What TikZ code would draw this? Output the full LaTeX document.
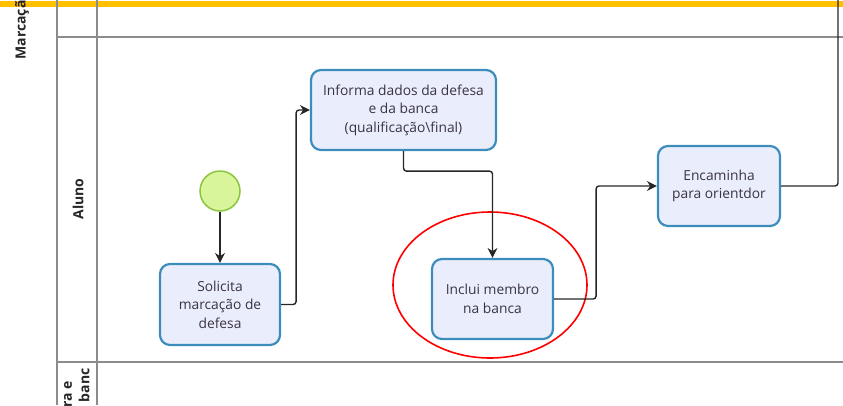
\documentclass[tikz,border=0pt]{standalone}
\usepackage{fontspec}
\setmainfont{Open Sans}
\usetikzlibrary{positioning,calc,arrows.meta}
\definecolor{poolyellow}{HTML}{FFC000}
\definecolor{taskblue}{HTML}{3C8DBC}
\definecolor{taskfill}{HTML}{EAEEFC}
\definecolor{startgreen}{HTML}{8CC63F}
\definecolor{startfill}{HTML}{D9F59C}
\definecolor{lanegray}{HTML}{8C8C8C}
\definecolor{textdark}{HTML}{3A3342}
\tikzset{
  task/.style={draw=taskblue, line width=2.2pt, fill=taskfill, rounded corners=10pt,
    align=center, text=textdark, font=\fontsize{13.8}{18.5}\selectfont, inner sep=2pt},
  flow/.style={draw=black!85, line width=1.4pt, rounded corners=3pt, -{Stealth[length=10pt,width=10pt]}},
  lane/.style={draw=lanegray, line width=1.5pt},
  lanelabel/.style={rotate=90, font=\fontsize{14}{16}\selectfont\bfseries, text=black!85}
}
\begin{document}
\begin{tikzpicture}[x=1pt, y=-1pt]
    \useasboundingbox (0,0) rectangle (843,405);
    \clip (0,0) rectangle (843,405);
    % Pool and lanes
    \fill [poolyellow] (0,1) rectangle (843,7);
    \draw [lane] (57,0) -- (57,405);
    \draw [lane] (97,0) -- (97,405);
    \draw [lane] (57,37) -- (843,37);
    \draw [lane] (57,362) -- (843,362);
    \node [lanelabel, anchor=west] (pool) at (22,63) {Marcação};
    \node [lanelabel] (aluno) at (78,199) {Aluno};
    \node [lanelabel, anchor=east] (bancaA) at (68,378) {ra e};
    \node [lanelabel, anchor=east] (bancaB) at (84,365) {a banc};
    % Start event
    \node [circle, draw=startgreen, line width=1.5pt, fill=startfill, minimum size=40pt] (start) at (220,191) {};
    % Tasks
    \node [task, minimum width=120pt, minimum height=81pt] (solicita) at (220,304.5) {Solicita\\marcação de\\defesa};
    \node [task, minimum width=185pt, minimum height=80pt] (informa) at (403.5,110) {Informa dados da defesa\\e da banca\\(qualificação\textbackslash final)};
    \node [task, minimum width=121pt, minimum height=80pt] (inclui) at (492.5,299) {Inclui membro\\na banca};
    \node [task, minimum width=122pt, minimum height=80pt] (encaminha) at (719,186) {Encaminha\\para orientdor};
    % Highlight
    \draw [red, line width=1.6pt] (490,285) ellipse [x radius=97, y radius=73];
    % Sequence flows
    \coordinate (exit) at (838,-10);
    \draw [flow] (start) -- (solicita);
    \draw [flow] (solicita.east) -- ++(15,0) |- (informa.west);
    \draw [flow] (informa.south) -- ++(0,20) -| (inclui.north);
    \draw [flow] (inclui.east) -- ++(42,0) |- (encaminha.west);
    \draw [flow, -] (encaminha.east) -| (exit);
\end{tikzpicture}
\end{document}
